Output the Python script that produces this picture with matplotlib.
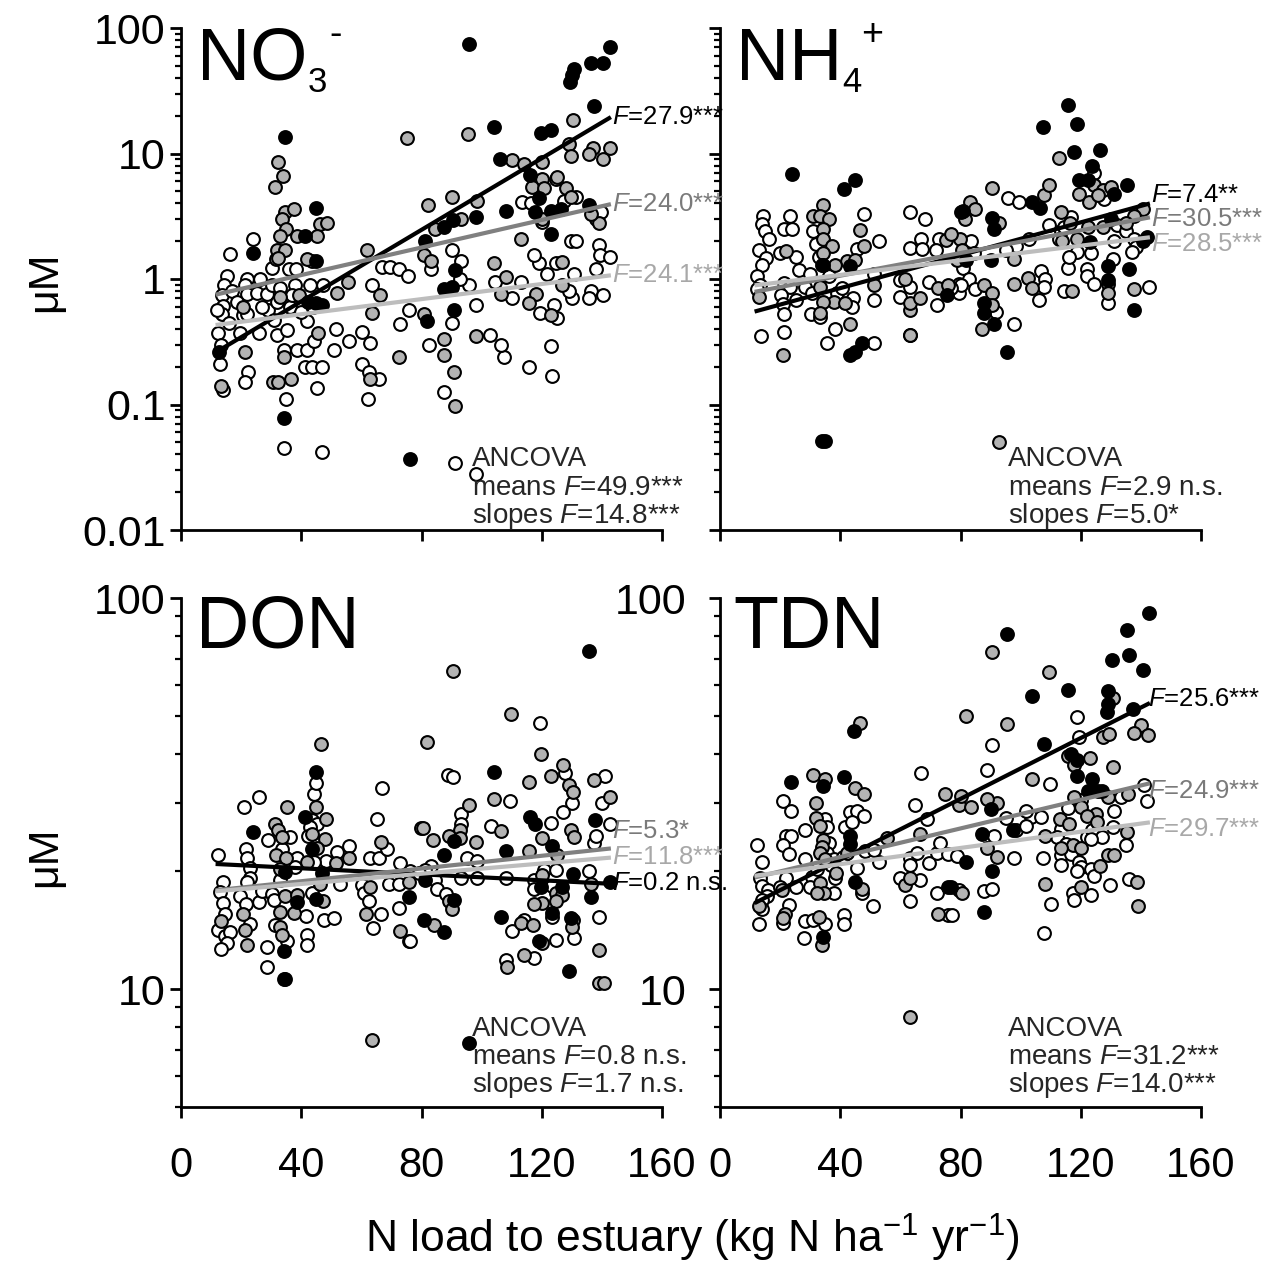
import matplotlib
matplotlib.use('Agg')
import matplotlib.pyplot as plt
from matplotlib.ticker import FixedLocator, FixedFormatter, NullFormatter

plt.rcParams['font.family'] = ['Liberation Sans', 'DejaVu Sans']
plt.rcParams['mathtext.fontset'] = 'custom'
plt.rcParams['mathtext.rm'] = 'Liberation Sans'
plt.rcParams['mathtext.it'] = 'Liberation Sans:italic'
plt.rcParams['mathtext.default'] = 'regular'

# ---------------- data (x = N load, y = concentration uM) ----------------
no3_white = [(16.3,1.57),(15.2,1.06),(14.3,0.9),(13.5,0.75),(14.1,0.61),(13.5,0.53),(11.9,0.57),(12.4,0.37),(13.2,0.3),(13,0.21),(14.1,0.13),
 (23.9,2.1),(22.1,1.0),(21.3,0.9),(22.1,0.76),(20.7,0.52),(22.1,0.53),(19.6,0.37),(22.4,0.18),(21.3,0.15),(26.3,1.0),(25.4,0.78),(25.8,0.37),
 (28.5,0.76),(30.2,1.22),(31.6,1.44),(30.2,0.9),(29.1,0.57),(30.8,0.47),(31.9,0.36),(35.2,0.39),(34.1,0.27),(35.8,1.2),(38.3,1.2),(38,0.9),
 (36.3,0.6),(38.5,0.27),(41.9,0.27),(41.3,0.2),(43.5,0.2),(46.9,0.2),(43,0.9),(41.9,0.46),(44.1,0.32),(45.2,0.135),(35,0.11),(34.1,0.045),
 (46.9,0.042),(47.4,0.9),(51.6,0.40),(51,0.27),(56,0.32),(60.2,0.38),(63,0.31),(60.2,0.21),(62.4,0.18),(65.8,0.16),(62.1,0.11),(63.5,0.9),
 (66.9,1.25),(69.6,1.25),(72.4,1.2),(75.4,1.05),(75.8,0.57),(73,0.44),(17,0.8),(18.5,0.65),(16,0.45),(27,0.6),(33,0.85),(37,0.75),(40,0.55),
 (44,0.6),(32,0.65),
 (113.5,4.1),(116.3,4.0),(120.2,2.85),(124.6,6.3),(127.4,4.2),(131.3,4.5),(138,3.0),(139.6,3.4),(129.6,2.0),(131.3,2.0),(139.1,1.85),
 (139.4,1.54),(142.7,1.5),(138,1.2),(130.7,1.1),(136.3,0.8),(140.5,0.74),(135.7,0.71),(130.2,0.7),(119,1.33),(117.4,1.55),(124.6,1.33),
 (129,0.8),(124.1,0.62),(125.2,0.49),(119.4,0.54),(123,0.29),(123.5,0.17),(115.7,0.20),(107.4,0.24),(106.3,0.3),(102.7,0.36),(98,0.62),
 (95.7,0.9),(93,1.4),(90.2,1.7),(90.2,0.45),(83,1.2),(82.4,0.3),(87.4,0.125),(91.3,0.034),(98,0.028),(113,0.95),(104.6,0.95),(110.2,0.71),
 (121.9,1.1),(92.7,1.0)]
no3_gray = [(32.1,8.6),(33.9,6.6),(31.3,5.4),(34.6,3.4),(37.6,3.6),(33.5,3.0),(35,2.5),(38.5,2.2),(33,2.2),(31.9,1.7),(34.6,1.7),(32.4,1.46),
 (46.3,2.75),(48.5,2.8),(45.2,2.2),(61.9,1.7),(75.2,13.2),(55.7,0.95),(51.9,0.77),(39.1,0.75),(33,0.72),(20.5,0.6),(66.3,0.75),(63.5,0.54),
 (45.7,0.37),(21.3,0.26),(34.1,0.24),(72.4,0.24),(30.7,0.15),(32.4,0.15),(36.5,0.16),(13.2,0.14),(63,0.16),(43.5,1.4),(42,1.45),
 (95.4,14.3),(130.5,18.5),(110.2,8.8),(114,8.2),(120.2,8.5),(129,11.9),(129.6,9.6),(137.2,11.1),(140.5,9.0),(142.7,11.1),(135.7,10),
 (125.2,6.5),(120.2,6.3),(116.9,5.4),(120.7,5.3),(128,5.3),(129.6,4.5),(90.2,4.5),(82.1,3.9),(98.5,4.2),(139.1,2.8),(84.6,2.5),(93,3.0),
 (120.2,3.0),(113,2.1),(80.7,1.55),(83.2,1.4),(104.1,1.33),(108,1.04),(126.9,1.37),(126.9,0.9),(118,0.76),(115.7,0.64),(106.3,0.76),
 (123,0.52),(80.7,0.53),(98,0.35),(87.4,0.33),(87.4,0.25),(90.7,0.18),(91.3,0.098),(136.3,3.3)]
no3_black = [(34.6,13.5),(44.9,3.7),(24.1,1.6),(41.3,2.2),(44.9,1.4),(44.9,0.64),(46.9,0.62),(34.1,0.078),(76.1,0.037),(12.6,0.26),(42.4,0.66),
 (95.7,75),(104,16.2),(106,9),(119.9,14.5),(123.2,15.3),(129.4,37.4),(130.2,42),(130.7,47),(136.3,53),(140.5,53),(142.7,70),(137.4,24),
 (116.1,6.7),(119.1,4.4),(117.6,3.4),(123,3.5),(126.3,3.6),(135.7,3.9),(108,3.5),(98,3.1),(90.5,2.95),(87.4,2.6),(81,2.0),(91.3,1.18),
 (90.2,0.87),(87.4,0.84),(90.7,0.57),(81.9,0.46),(123,2.3)]

nh4_white = [(14.4,3.2),(13.9,2.75),(15,2.4),(16.4,2.1),(13.1,1.7),(15.3,1.47),(13.9,1.3),(12.2,1.06),(13.3,0.9),(12.4,0.83),(21.3,2.5),
 (23.3,3.2),(23.9,2.5),(20,1.62),(25.3,1.5),(26.4,1.18),(21.3,0.93),(23.3,0.86),(20.2,0.74),(20.9,0.63),(21.3,0.53),(25.3,0.68),(21.3,0.38),
 (13.6,0.35),(31.1,2.4),(32,1.9),(32.8,1.5),(30,1.1),(28.3,0.87),(30.6,0.77),(30.2,0.53),(33.3,0.5),(36.1,1.05),(38.9,0.77),(40.6,0.85),
 (44.4,0.7),(43.9,0.6),(38.3,0.4),(35.6,0.31),(51.1,0.31),(48,3.3),(45.6,1.73),(52.8,2.0),(51.3,0.68),(51.3,1.1),(63.3,3.4),(68.3,3.0),
 (66.9,2.1),(63.3,1.75),(67.2,1.74),(72.8,2.1),(72,1.7),(60,0.98),(60,0.72),(63.1,0.87),(63.1,0.36),(69.4,0.95),(72.2,0.62),(79.4,0.92),
 (79.4,0.78),
 (124.5,7.0),(127.8,4.3),(95.8,4.4),(99.5,4.1),(113.4,2.4),(109.5,2.7),(116.7,3.1),(114.5,2.6),(132.2,2.7),(135,2.4),(137.8,2.1),(138.4,1.8),
 (131.1,2.0),(112.8,2.1),(102.8,2.1),(98.4,1.82),(95,1.7),(83.4,2.0),(84.5,1.6),(80.9,1.22),(82.8,1.0),(80,0.9),(84.7,0.83),(76.7,0.85),
 (118.9,1.65),(123.3,1.6),(130.6,1.45),(137.2,1.65),(115.6,1.22),(116.1,1.5),(122.2,1.2),(122.2,1.05),(106.7,1.15),(108,1.0),(124.5,0.92),
 (106.1,0.68),(107.8,0.87),(114.5,0.8),(142.8,0.87),(128.9,0.64),(97.8,0.44),(91.7,0.55)]
nh4_gray = [(34.4,3.9),(31.1,3.2),(33.3,3.2),(36.1,3.0),(34.4,2.5),(46.5,2.45),(34.4,2.07),(22,1.68),(37.2,1.84),(34.4,1.62),(48,1.82),
 (42.2,1.4),(45,1.41),(38.3,1.3),(34.4,1.29),(51.1,0.9),(33.3,0.87),(13.1,0.72),(38,0.65),(34.2,0.65),(41.7,0.64),(33.1,0.54),(43.1,0.44),
 (21.1,0.25),(63.1,0.57),(63.1,0.64),(66.4,0.71),(61.7,1.0),(72.4,0.85),(75.8,0.9),(75.3,2.05),(79.8,2.1),(63.1,0.36),
 (112.8,9.2),(90.6,5.3),(83.1,4.1),(84.7,3.6),(107.8,4.7),(109.5,5.6),(119.5,4.8),(124.5,5.6),(127.3,5.1),(130,5.4),(122.8,4.1),(125.6,4.7),
 (140.6,3.6),(137.8,3.2),(135,2.8),(92.8,2.8),(113.4,3.4),(116.5,2.8),(122.3,2.6),(127.3,2.6),(81.4,3.0),(76.7,2.3),(80.6,1.7),(78.7,1.42),
 (97.8,1.45),(118.9,2.1),(102.3,1.02),(97.8,0.92),(103.9,0.85),(87.8,0.9),(90.6,0.77),(117,0.8),(128.9,0.92),(129.1,0.78),(137.6,0.84),
 (87.3,0.4),(90.6,0.62),(92.8,0.05),(113.9,2.0)]
nh4_black = [(23.9,6.9),(41.1,5.2),(44.8,6.2),(34,0.051),(35,0.051),(43.3,0.25),(45,0.26),(47.2,0.31),(43.3,1.26),(75.6,0.75),(80,3.4),
 (33.9,1.3),
 (115.8,24.4),(107.6,16.2),(118.9,17.2),(117.6,10.2),(126.5,10.7),(123.6,7.9),(119.5,6.1),(122.5,6.1),(135.4,5.6),(130.9,4.8),(80.9,3.5),
 (103.9,4.1),(106.5,3.7),(90.6,3.05),(91.1,2.5),(130,3.0),(142.2,2.17),(140.6,2.0),(123.1,1.97),(90,1.42),(81.7,1.42),(128.9,1.27),
 (128.9,0.99),(136.1,1.2),(87.8,0.64),(87.8,0.54),(91.1,0.44),(137.6,0.57),(95.6,0.26)]

don_white = [(12.4,22),(13.9,18.8),(13,17.7),(14.1,16.6),(14.7,15.6),(12.4,14.2),(14.7,13.7),(16.3,14),(15.2,13.1),(13.2,12.7),(21.7,22.8),
 (22.1,21.6),(22.8,20.4),(23,19.2),(22.1,18.8),(19.7,17.3),(21.7,16.5),(23,14.7),(21,29.3),(25.8,31),(28.8,24),(25.8,16.7),(26.9,17.8),
 (30.2,17.5),(31,16.9),(31.3,14.6),(28.6,12.8),(28.6,11.4),(33.6,22.8),(33,19),(36.3,24.5),(38.6,21.7),(38,20.5),(35.2,13.3),(41.9,13.8),
 (41.9,13),(41.7,15.4),(44.1,31.6),(44.9,33.7),(43.5,27),(45.2,26.5),(43,26),(42.4,24.6),(48.3,21.3),(44.1,21.2),(43.5,17.6),(47.7,15),
 (51,15.2),(55.8,23.2),(51.9,22.4),(52.8,18.6),(60.2,18.5),(60.8,17.6),(62.4,16.8),(62.8,21.6),(65.8,21.6),(65.2,27.3),(63.9,14.3),
 (66.6,15.6),(68.6,22.8),(69.1,18.6),(72.4,18.6),(72.4,16.1),(75.8,13.3),(73,21),(66.9,32.7),(79.7,25.8),(76.3,20),
 (119.4,48),(88.7,35.3),(90.5,34.8),(109.4,30.2),(127.6,35.6),(141,35),(130.2,30),(140.2,30),(93,28.1),(93,26.5),(103,26.2),(123,26.6),
 (127.2,28.4),(142.7,26.5),(137.4,23.6),(83,20.7),(81.3,20.2),(79.1,19.8),(84.6,19),(85.2,18),(88,17.5),(95.2,21.7),(98.5,21.3),(93,19.3),
 (98.5,19.3),(108,19.3),(117.4,19),(120.7,20.2),(124.6,20.2),(123.5,18.4),(117.4,18),(123.5,15.3),(114.1,15),(110.2,14.1),(117.4,12),
 (124.6,13.4),(130.7,13.5),(139.1,15.3),(135.7,20),(138,24.6),(108,11.9),(76.3,13.3)]
don_gray = [(46.7,42.4),(35.2,29.2),(44.9,29.3),(48.3,27.3),(31.3,26.5),(32.1,25.5),(33.6,24.5),(43.5,25),(48,24.2),(31.7,22),(35,21.6),
 (33,20.3),(41.9,21.2),(45.2,23),(51.7,21),(55.8,21.6),(66.6,23.8),(63,18.2),(75.8,18.8),(34.7,17.3),(47.4,16.8),(38.6,17.4),(37.7,15.7),
 (33,15.8),(46.3,18.6),(20.5,15.6),(21.3,14.2),(13.2,14.9),(21.9,13),(33,14.4),(33.6,13.8),(34.7,10.6),(61.7,15.6),(72.8,14.1),(63.5,7.4),
 (90.5,65),(109.9,50.4),(119.6,40),(81.9,42.8),(127.2,37.5),(115.7,33.8),(123,35),(129.1,33.3),(130.5,32),(137.4,34.3),(142.7,31),
 (104.1,30.7),(95.7,29.6),(80.5,25.9),(83.9,24),(92.7,25.6),(92.7,24.3),(98,23.8),(106.3,25.4),(89.1,24.7),(129.6,25.6),(130.7,24.5),
 (120.2,24.4),(115.7,22.6),(125.2,22),(120.2,19.6),(124.6,17.6),(126.9,17.4),(124.6,16.8),(120.2,16.6),(117.4,16.5),(136.3,18.6),
 (84.1,14.6),(89.1,16.8),(90.2,16),(113,14.8),(117.2,14.6),(120.2,13.1),(130.5,15),(130.2,14.4),(114.1,12.2),(108.3,11.4),(139.1,12.6),
 (139.1,10.4),(140.7,10.4)]
don_black = [(44.9,36),(41.3,27.5),(24.1,25.3),(43.5,22.8),(34.7,19.9),(46.9,19.8),(44.9,17),(34.1,12.5),(34.1,10.6),(75.8,17.2),(38.6,16.7),
 (135.7,73),(104.1,36),(116.1,27.5),(117.6,26.4),(137.6,27),(90.7,23.9),(87.4,22),(108,22.5),(123.5,23.3),(130.5,19.7),(142.7,18.8),
 (119.9,18.3),(126.9,18.3),(136.3,17.2),(81.3,19),(90.7,16.9),(106.3,15.3),(80.7,15),(87.4,14),(119.1,13.3),(123.5,15.7),(129.6,15.2),
 (129.1,11.1),(95.7,7.3)]

tdn_white = [(12.2,23.4),(13.9,21.2),(13.3,19.2),(13.9,18.4),(16.1,17.9),(15.8,17.3),(13.9,16.9),(13.9,16),(13.1,14.7),(20.9,30.2),(23.6,28.5),
 (22,24.6),(23.6,24.7),(21.1,23.4),(22.8,22.2),(22,19.3),(25.3,18.2),(20,18.2),(23.1,16.4),(20.9,14.8),(28.3,14.9),(28.1,13.5),(28.3,25.5),
 (28.3,21.5),(30.6,19.4),(30,18.2),(31.1,15),(32.2,20.3),(35,27.2),(35.6,26),(36.1,23.6),(35.6,22.3),(38,21.5),(37,20.8),(38.3,19.3),
 (37.8,17.6),(35,14.7),(41.3,15.5),(41.3,14.7),(43.3,28.3),(45.6,28.5),(48,27.7),(41.7,26),(43.9,26.8),(40.9,21.8),(45.6,20.4),(47.2,17.6),
 (50.9,16.3),(48.3,22.5),(52.8,21.2),(51.1,22.7),(66.9,35.6),(65,29.5),(68.7,27.2),(60,19.3),(63.1,21.7),(63.3,20.8),(65.6,22.3),(66.4,19),
 (63.1,16.8),(69.4,21),(72.2,22.3),(73.3,23.6),(75.8,22.1),(75.8,15.5),(72.2,17.6),(79.5,17.9),(79,21.9),
 (118.9,49.5),(90.6,42),(88.7,36.3),(109.8,33.4),(119.5,44),(140.9,33.3),(142.2,30.3),(133.4,31),(130.9,28.6),(115.6,29),(120,30.4),
 (103.4,27.6),(101.7,28.5),(95,27.4),(98.4,25.6),(101.7,26.1),(106.7,27.6),(113.3,25.7),(112.2,24.5),(115,23.5),(122.2,24.5),(123.9,25.6),
 (127.2,24.5),(135,23.4),(107.3,21.6),(113.3,22),(113.3,20.8),(116.7,22.2),(119.5,21.1),(123.3,24.2),(120,20.5),(118.9,20),(123.3,20.3),
 (124.5,19.5),(130.6,26),(91.1,24.6),(97.8,21.7),(87.8,17.8),(90.6,18),(129.8,18.5),(136.1,19.1),(117.3,17.6),(117.6,16.9),(110,16.5),
 (107.8,13.9),(123.3,17.4),(77.2,15.5)]
tdn_gray = [(46.7,47.8),(31.1,35.2),(35,34.4),(45,32.6),(48,31.5),(32,30),(32,27.4),(33.3,26.2),(34.4,24.1),(33.9,23.1),(33.1,22.3),(42.4,22.3),
 (35,21.5),(38.7,19.8),(33.3,18.7),(34.7,17.6),(32.4,17.6),(47.2,18),(20.7,17.9),(21.7,15.6),(20.9,15.2),(13.1,16.3),(32.8,15.3),(33.9,13),
 (66.4,25),(75,31.6),(63.3,8.5),(61.7,18.5),(63.1,19.3),(72.4,15.6),(79.5,29.5),(55.6,24.3),
 (90.6,72.8),(109.5,64.8),(81.7,49.8),(95.4,47.5),(130.6,55.6),(140,47.3),(137.6,45.2),(142.5,44.6),(127.3,44),(129.5,45),(115.6,39.4),
 (123.1,39),(130.6,37),(117.6,37.4),(103.9,34.5),(117.6,31),(135.8,31.6),(125,28),(128.9,31),(92.2,30),(88.7,30.6),(80,31.2),(83.6,29.2),
 (113.1,27.3),(120,29.3),(122,27.8),(125.4,26.8),(116.1,26.4),(88.9,23),(92.2,21.8),(128.9,22),(131.1,22),(117.3,23.4),(120,23),(113.3,23),
 (108,24.7),(126.5,20.7),(120,18.3),(108,18.6),(80.6,17.6),(138.7,18.8),(138.9,16.3),(135.3,25.3)]
tdn_black = [(44.7,45.7),(41.1,34.8),(23.7,33.8),(34.4,33),(43.1,24.7),(43.1,23.5),(45,18.8),(34.4,13.6),(75.8,18.3),
 (142.8,91.7),(95.6,81),(135.4,82.8),(136.1,71.4),(130.4,69.3),(140.6,65.6),(103.9,56.3),(115.8,58.3),(128.9,58),(128.9,53.7),(128.7,51),
 (137.3,52),(107.8,42.3),(116.9,40),(118.9,38.5),(118.9,35),(123.9,34.5),(122.3,32.2),(125.6,32.2),(127.2,32.2),(90,28.9),(97.3,25.5),
 (87.3,25),(81.7,21.2),(90.6,20),(87.8,15.8),(76.7,18.3)]

# regression line end values (at fit_x) for black, gray, light-gray series
fit_x = [11.5, 143]
no3_fit = [(0.26, 19.5), (0.75, 3.95), (0.43, 1.07)]
nh4_fit = [(0.55, 4.0), (0.79, 3.1), (0.89, 2.15)]
don_fit = [(20.9, 18.6), (17.9, 22.9), (17.8, 21.7)]
tdn_fit = [(16.6, 53.9), (19.3, 33.6), (19.5, 26.7)]

no3_F = ['27.9***', '24.0***', '24.1***']
nh4_F = ['7.4**', '30.5***', '28.5***']
don_F = ['0.2 n.s.', '5.3*', '11.8***']
tdn_F = ['25.6***', '24.9***', '29.7***']

no3_ancova = ['49.9***', '14.8***']
nh4_ancova = ['2.9 n.s.', '5.0*']
don_ancova = ['0.8 n.s.', '1.7 n.s.']
tdn_ancova = ['31.2***', '14.0***']

top_ticks = [0.01, 0.1, 1, 10, 100]
top_ticklabels = ['0.01', '0.1', '1', '10', '100']
bottom_ticks = [10, 100]
bottom_ticklabels = ['10', '100']
x_ticks = [0, 40, 80, 120, 160]

# ---------------- layout ----------------
W, H = 1270, 1264
fig = plt.figure(figsize=(W / 100, H / 100), dpi=100)

def rect(l, r, t, b):
    return [l / W, 1 - b / H, (r - l) / W, (b - t) / H]

def fx(px):
    return px / W

def fy(py):
    return 1 - py / H

fill = {'white': '#ffffff', 'gray': '#b3b3b3', 'black': '#000000'}
line_col = ['#000000', '#808080', '#bdbdbd']
ftxt_col = ['#000000', '#7a7a7a', '#a8a8a8']

panels = [
    dict(r=(181, 662, 28, 530), pts=(no3_white, no3_gray, no3_black), fit=no3_fit, F=no3_F, an=no3_ancova,
         ylim=(0.01, 100), top=True, ylab=True, ypad=3, flab_x=612, flab_y=[117, 204, 275], an_y=[457, 486, 514], an_x=472),
    dict(r=(720, 1201, 28, 530), pts=(nh4_white, nh4_gray, nh4_black), fit=nh4_fit, F=nh4_F, an=nh4_ancova,
         ylim=(0.01, 100), top=True, ylab=False, ypad=3, flab_x=1151, flab_y=[195, 219, 244], an_y=[457, 486, 514], an_x=1008),
    dict(r=(181, 662, 598, 1107), pts=(don_white, don_gray, don_black), fit=don_fit, F=don_F, an=don_ancova,
         ylim=(5, 100), top=False, ylab=True, ypad=3, flab_x=612, flab_y=[883, 831, 857], an_y=[1027, 1055, 1083], an_x=472),
    dict(r=(720, 1201, 598, 1107), pts=(tdn_white, tdn_gray, tdn_black), fit=tdn_fit, F=tdn_F, an=tdn_ancova,
         ylim=(5, 100), top=False, ylab=True, ypad=16, flab_x=1148, flab_y=[699, 791, 829], an_y=[1027, 1055, 1083], an_x=1008),
]

for p in panels:
    ax = fig.add_axes(rect(*p['r']))
    ax.set_yscale('log')
    ax.set_xlim(0, 160)
    ax.set_ylim(*p['ylim'])
    for sp in ('top', 'right'):
        ax.spines[sp].set_visible(False)
    for sp in ('left', 'bottom'):
        ax.spines[sp].set_linewidth(2.0)
    for data, key in zip(p['pts'], ('white', 'gray', 'black')):
        xs = [d[0] for d in data]
        ys = [d[1] for d in data]
        ax.plot(xs, ys, 'o', ms=9.2, mfc=fill[key], mec='black', mew=1.5, ls='none', zorder=3, clip_on=False)
    for (y0, y1), c in zip(p['fit'], line_col):
        ax.plot(fit_x, [y0, y1], '-', color=c, lw=3.0, zorder=4, solid_capstyle='butt')
    ax.xaxis.set_major_locator(FixedLocator(x_ticks))
    if p['top']:
        ax.yaxis.set_major_locator(FixedLocator(top_ticks))
        ax.yaxis.set_major_formatter(FixedFormatter(top_ticklabels))
        minors = [m * 10.0 ** e for e in range(-2, 2) for m in range(2, 10)]
        ax.xaxis.set_major_formatter(NullFormatter())
    else:
        ax.yaxis.set_major_locator(FixedLocator(bottom_ticks))
        ax.yaxis.set_major_formatter(FixedFormatter(bottom_ticklabels))
        minors = [5, 6, 7, 8, 9] + [m * 10 for m in range(2, 10)]
    ax.yaxis.set_minor_locator(FixedLocator(minors))
    ax.yaxis.set_minor_formatter(NullFormatter())
    if not p['ylab']:
        ax.yaxis.set_major_formatter(NullFormatter())
    ax.tick_params(axis='both', which='major', direction='out', length=8, width=2.0, labelsize=31)
    ax.tick_params(axis='y', which='major', pad=p['ypad'])
    ax.tick_params(axis='x', which='major', pad=20, labelsize=30)
    ax.tick_params(axis='y', which='minor', direction='out', length=4.5, width=1.6)
    ax.tick_params(axis='x', which='minor', bottom=False)
    # F labels
    for lab, c, ly in zip(p['F'], ftxt_col, p['flab_y']):
        fig.text(fx(p['flab_x']), fy(ly), r'$\mathit{F}$=' + lab, color=c, fontsize=18.5, ha='left', va='center')
    lines = ['ANCOVA', 'means ' + r'$\mathit{F}$=' + p['an'][0], 'slopes ' + r'$\mathit{F}$=' + p['an'][1]]
    for t, ly in zip(lines, p['an_y']):
        fig.text(fx(p['an_x']), fy(ly + 9), t, color='#262626', fontsize=20, ha='left', va='baseline')

# panel titles
fig.text(fx(197), fy(80), 'NO', fontsize=53, va='baseline', ha='left')
fig.text(fx(308), fy(92), '3', fontsize=25, va='baseline', ha='left')
fig.text(fx(329), fy(45), '-', fontsize=27, va='baseline', ha='left')
fig.text(fx(736), fy(80), 'NH', fontsize=53, va='baseline', ha='left')
fig.text(fx(842), fy(92), '4', fontsize=25, va='baseline', ha='left')
fig.text(fx(861), fy(45), '+', fontsize=27, va='baseline', ha='left')
fig.text(fx(196), fy(648), 'DON', fontsize=53, va='baseline', ha='left')
fig.text(fx(733), fy(648), 'TDN', fontsize=53, va='baseline', ha='left')

# axis labels
fig.text(fx(45), fy(282), 'μM', fontsize=31, rotation=90, ha='center', va='center')
fig.text(fx(45), fy(857), 'μM', fontsize=31, rotation=90, ha='center', va='center')
fig.text(fx(692), fy(1238), r'N load to estuary (kg N ha$^{\mathregular{-1}}$ yr$^{\mathregular{-1}}$)', fontsize=32,
         ha='center', va='center')

fig.savefig('out.png', dpi=100)
